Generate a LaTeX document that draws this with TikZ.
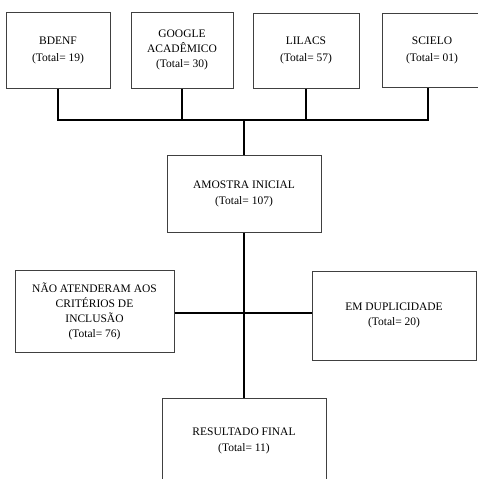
\documentclass[tikz,border=0pt]{standalone}
\usepackage{fontspec}
\setmainfont{Liberation Serif}
\begin{document}
\begin{tikzpicture}[x=1pt,y=-1pt,
  box/.style={draw=black!75,line width=1pt,fill=white,inner sep=0pt,align=center,
    font=\fontsize{11.5}{15}\selectfont},
  conn/.style={draw=black,line width=2pt}]
\useasboundingbox (0,0) rectangle (478,479);
\clip (0,0) rectangle (478,479);
\node[box,minimum width=104,minimum height=76] (bdenf) at (58,50) {BDENF\\[2pt](Total= 19)};
\node[box,minimum width=102,minimum height=76] (google) at (182,50) {GOOGLE\\ACADÊMICO\\(Total= 30)};
\node[box,minimum width=106,minimum height=75] (lilacs) at (306,50.5) {LILACS\\[2pt](Total= 57)};
\node[box,minimum width=100,minimum height=74] (scielo) at (432,50) {SCIELO\\[2pt](Total= 01)};
\coordinate (bar) at (244,120);
\node[box,minimum width=154,minimum height=77] (amostra) at (244,193.5) {AMOSTRA INICIAL\\[1pt](Total= 107)};
\node[box,minimum width=159,minimum height=82] (nao) at (94.5,311) {NÃO ATENDERAM AOS\\CRITÉRIOS DE\\INCLUSÃO\\(Total= 76)};
\node[box,minimum width=164,minimum height=89] (dup) at (394,315.5) {EM DUPLICIDADE\\(Total= 20)};
\node[box,minimum width=164,minimum height=86] (final) at (244,441) {RESULTADO FINAL\\[1pt](Total= 11)};
\coordinate (cross) at (244,313);
\draw[conn] (bdenf.south) -- (bdenf.south |- bar) -- ([xshift=-4pt]scielo.south |- bar) -- ([xshift=-4pt]scielo.south);
\draw[conn] (google.south) -- (google.south |- bar);
\draw[conn] (lilacs.south) -- (lilacs.south |- bar);
\draw[conn] (bar) -- (amostra.north);
\draw[conn] (amostra.south) -- (final.north);
\draw[conn] (nao.east |- cross) -- (dup.west |- cross);
\end{tikzpicture}
\end{document}
